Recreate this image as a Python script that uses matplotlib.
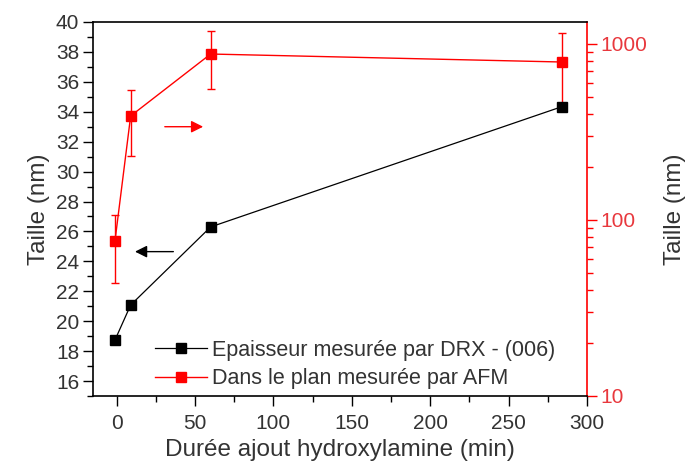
import numpy as np
import matplotlib
matplotlib.use('Agg')
import matplotlib.pyplot as plt
from matplotlib.lines import Line2D
from matplotlib.ticker import MultipleLocator, LogLocator, NullFormatter

plt.rcParams['font.family'] = ['Liberation Sans', 'DejaVu Sans']

# hydroxylamine addition time (min)
temps = [-1, 9, 60, 284]

# thickness from XRD (006), left axis
epaisseur = [18.74, 21.08, 26.3, 34.34]

# in-plane size from AFM, right axis (log)
plan_afm = [76, 390, 877, 790]
plan_haut = [107, 548, 1180, 1155]
plan_bas = [44, 232, 555, 430]

txt = '#333333'
rouge_lab = '#e8383d'

fig = plt.figure(figsize=(6.87, 4.65), dpi=100)
ax = fig.add_axes([0.1354, 0.1484, 0.719, 0.8043])
ax2 = ax.twinx()

err = [np.array(plan_afm) - np.array(plan_bas), np.array(plan_haut) - np.array(plan_afm)]
ax2.errorbar(temps, plan_afm, yerr=err, color='red', marker='s', ms=7.5,
             lw=1, capsize=3, elinewidth=1, capthick=1)
l1, = ax.plot(temps, epaisseur, color='black', marker='s', ms=7.5, lw=0.9,
              label='Epaisseur mesurée par DRX - (006)')
l2 = Line2D([], [], color='red', marker='s', ms=7.5, lw=1,
            label='Dans le plan mesurée par AFM')

# black series above the red one
ax.set_zorder(ax2.get_zorder() + 1)
ax.patch.set_visible(False)

ax.set_xlim(-15, 300)
ax.set_ylim(15, 40)
ax.xaxis.set_major_locator(MultipleLocator(50))
ax.xaxis.set_minor_locator(MultipleLocator(25))
ax.yaxis.set_minor_locator(MultipleLocator(1))
ax.set_yticks(np.arange(16, 41, 2))

ax2.set_yscale('log')
ax2.set_ylim(10, 10 ** 3.125)
ax2.yaxis.set_minor_locator(LogLocator(base=10, subs=np.arange(2, 10)))
ax2.yaxis.set_minor_formatter(NullFormatter())
ax2.set_yticks([10, 100, 1000])
ax2.set_yticklabels(['10', '100', '1000'])

ax.tick_params(axis='both', which='major', direction='out', length=7, width=1,
               labelsize=15, labelcolor=txt, pad=3)
ax.tick_params(axis='x', which='major', pad=6)
ax.tick_params(axis='both', which='minor', direction='out', length=4, width=1)
ax.tick_params(top=False, which='both')
ax2.tick_params(axis='y', which='major', direction='out', length=7, width=1,
                colors='red', labelcolor=rouge_lab, labelsize=15, pad=3)
ax2.tick_params(axis='y', which='minor', direction='out', length=4, width=1, colors='red')

for s in ['left', 'bottom', 'top']:
    ax.spines[s].set_linewidth(1.2)
ax2.spines['right'].set_color('red')
ax2.spines['right'].set_linewidth(1.2)
ax.spines['right'].set_visible(False)
ax2.spines['left'].set_visible(False)
ax2.spines['top'].set_visible(False)
ax2.spines['bottom'].set_visible(False)

ax.set_xlabel('Durée ajout hydroxylamine (min)', fontsize=17.5, color=txt, labelpad=4)
ax.set_ylabel('Taille (nm)', fontsize=17.5, color=txt, labelpad=4)
ax2.set_ylabel('Taille (nm)', fontsize=17.5, color=txt, labelpad=12)

# arrows pointing to each series' axis
ax.annotate('', xy=(57, 33), xytext=(29, 33),
            arrowprops=dict(arrowstyle='-|>', color='red', lw=1, mutation_scale=18))
ax.annotate('', xy=(10, 24.65), xytext=(38, 24.65),
            arrowprops=dict(arrowstyle='-|>', color='black', lw=1, mutation_scale=18))

leg = ax.legend([l1, l2], [l1.get_label(), l2.get_label()],
                loc='lower left', bbox_to_anchor=(0.095, -0.022), frameon=False,
                fontsize=15.5, numpoints=1, handlelength=2.4, handletextpad=0.25,
                labelspacing=0.35, borderaxespad=0.3)
for t in leg.get_texts():
    t.set_color(txt)

fig.savefig('out.png', dpi=100)
